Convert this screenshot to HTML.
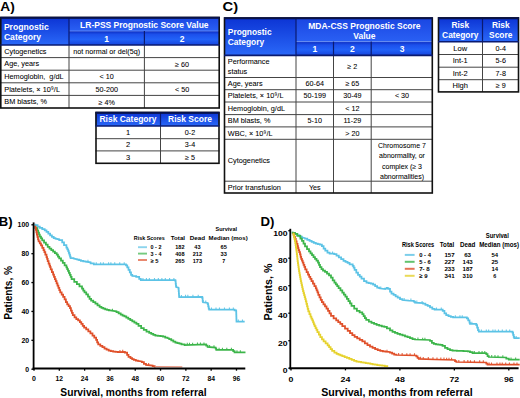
<!DOCTYPE html>
<html><head><meta charset="utf-8"><style>
html,body{margin:0;padding:0;background:#fff;}
body{width:520px;height:398px;overflow:hidden;}
svg{display:block;font-family:"Liberation Sans", sans-serif;}
</style></head><body>
<svg width="520" height="398" viewBox="0 0 520 398">
<defs>
<linearGradient id="gTop" x1="0" y1="0" x2="0" y2="1">
<stop offset="0" stop-color="#1a46e2"/><stop offset="1" stop-color="#2a60f4"/></linearGradient>
<linearGradient id="gSub" x1="0" y1="0" x2="0" y2="1">
<stop offset="0" stop-color="#0c2cc0"/><stop offset="0.25" stop-color="#1c50ec"/><stop offset="0.6" stop-color="#2262f8"/><stop offset="1" stop-color="#1644dc"/></linearGradient>
<linearGradient id="gFull" x1="0" y1="0" x2="0" y2="1">
<stop offset="0" stop-color="#0c34d4"/><stop offset="1" stop-color="#2a68f8"/></linearGradient>
</defs>
<text x="0.3" y="10.8" font-size="13.4" font-weight="bold" fill="#000" textLength="14.50" lengthAdjust="spacingAndGlyphs">A)</text>
<text x="222.6" y="11.1" font-size="13.6" font-weight="bold" fill="#000" textLength="15.60" lengthAdjust="spacingAndGlyphs">C)</text>
<rect x="0.3" y="17.5" width="219.39999999999998" height="13.5" fill="url(#gTop)" />
<rect x="69" y="31" width="150.7" height="14" fill="url(#gSub)" />
<rect x="0.3" y="31" width="68.7" height="14" fill="url(#gSub)" />
<rect x="0.3" y="17.5" width="68.7" height="27.5" fill="url(#gFull)" />
<line x1="69" y1="31" x2="219.7" y2="31" stroke="#6f95f5" stroke-width="0.8"/>
<line x1="69" y1="17.5" x2="69" y2="45" stroke="#0a1a70" stroke-width="1.2"/>
<line x1="144.4" y1="31" x2="144.4" y2="45" stroke="#0a1a70" stroke-width="1.2"/>
<line x1="0.3" y1="57.6" x2="219.7" y2="57.6" stroke="#444" stroke-width="1"/>
<line x1="0.3" y1="70.2" x2="219.7" y2="70.2" stroke="#444" stroke-width="1"/>
<line x1="0.3" y1="82.8" x2="219.7" y2="82.8" stroke="#444" stroke-width="1"/>
<line x1="0.3" y1="95.4" x2="219.7" y2="95.4" stroke="#444" stroke-width="1"/>
<line x1="69" y1="45" x2="69" y2="108" stroke="#444" stroke-width="1"/>
<line x1="144.4" y1="45" x2="144.4" y2="108" stroke="#444" stroke-width="1"/>
<rect x="0.8" y="17.5" width="218.39999999999998" height="90.5" fill="none" stroke="#111" stroke-width="1.6"/>
<line x1="0.3" y1="45" x2="219.7" y2="45" stroke="#0a1a70" stroke-width="1.6"/>
<line x1="0.3" y1="17.8" x2="219.7" y2="17.8" stroke="#08124a" stroke-width="1.9"/>
<text x="3.9" y="29.91" font-size="8.6" font-weight="bold" text-anchor="start" fill="#fff" >Prognostic</text>
<text x="3.9" y="39.91" font-size="8.6" font-weight="bold" text-anchor="start" fill="#fff" >Category</text>
<text x="144.35" y="28.38" font-size="8.5" font-weight="bold" text-anchor="middle" fill="#fff" >LR-PSS Prognostic Score Value</text>
<text x="106.7" y="41.98" font-size="8.5" font-weight="bold" text-anchor="middle" fill="#fff" >1</text>
<text x="182.05" y="41.98" font-size="8.5" font-weight="bold" text-anchor="middle" fill="#fff" >2</text>
<text x="4.3" y="53.85" font-size="7.3" font-weight="normal" text-anchor="start" fill="#000"  stroke="#000" stroke-width="0.06">Cytogenetics</text>
<text x="106.7" y="54.22" font-size="7.2" font-weight="normal" text-anchor="middle" fill="#000"  stroke="#000" stroke-width="0.06">not normal or del(5q)</text>
<text x="4.3" y="66.46" font-size="7.3" font-weight="normal" text-anchor="start" fill="#000"  stroke="#000" stroke-width="0.06">Age, years</text>
<text x="182.05" y="67.02" font-size="7.2" font-weight="normal" text-anchor="middle" fill="#000"  stroke="#000" stroke-width="0.06">≥ 60</text>
<text x="4.3" y="79.06" font-size="7.3" font-weight="normal" text-anchor="start" fill="#000"  stroke="#000" stroke-width="0.06">Hemoglobin,  g/dL</text>
<text x="106.7" y="79.42" font-size="7.2" font-weight="normal" text-anchor="middle" fill="#000"  stroke="#000" stroke-width="0.06">&lt; 10</text>
<text x="4.3" y="91.66" font-size="7.3" font-weight="normal" text-anchor="start" fill="#000"  stroke="#000" stroke-width="0.06">Platelets, × 10⁹/L</text>
<text x="106.7" y="92.02" font-size="7.2" font-weight="normal" text-anchor="middle" fill="#000"  stroke="#000" stroke-width="0.06">50-200</text>
<text x="182.05" y="92.22" font-size="7.2" font-weight="normal" text-anchor="middle" fill="#000"  stroke="#000" stroke-width="0.06">&lt; 50</text>
<text x="4.3" y="104.25" font-size="7.3" font-weight="normal" text-anchor="start" fill="#000"  stroke="#000" stroke-width="0.06">BM blasts, %</text>
<text x="106.7" y="104.62" font-size="7.2" font-weight="normal" text-anchor="middle" fill="#000"  stroke="#000" stroke-width="0.06">≥ 4%</text>
<rect x="95.5" y="112.5" width="124.0" height="13.5" fill="url(#gFull)" />
<line x1="160.5" y1="112.5" x2="160.5" y2="126" stroke="#0a1a70" stroke-width="1.2"/>
<line x1="95.5" y1="138.7" x2="219.5" y2="138.7" stroke="#444" stroke-width="1"/>
<line x1="95.5" y1="150.9" x2="219.5" y2="150.9" stroke="#444" stroke-width="1"/>
<line x1="160.5" y1="126" x2="160.5" y2="163.3" stroke="#444" stroke-width="1"/>
<rect x="96.0" y="112.5" width="123.0" height="50.80000000000001" fill="none" stroke="#111" stroke-width="1.6"/>
<line x1="95.5" y1="126" x2="219.5" y2="126" stroke="#0a1a70" stroke-width="1.6"/>
<line x1="95.5" y1="112.8" x2="219.5" y2="112.8" stroke="#08124a" stroke-width="1.9"/>
<text x="128.0" y="122.27" font-size="8.5" font-weight="bold" text-anchor="middle" fill="#fff" >Risk Category</text>
<text x="190.0" y="122.27" font-size="8.5" font-weight="bold" text-anchor="middle" fill="#fff" >Risk Score</text>
<text x="128.0" y="134.97" font-size="7.5" font-weight="normal" text-anchor="middle" fill="#000"  stroke="#000" stroke-width="0.06">1</text>
<text x="190.0" y="134.87" font-size="7.2" font-weight="normal" text-anchor="middle" fill="#000"  stroke="#000" stroke-width="0.06">0-2</text>
<text x="128.0" y="147.43" font-size="7.5" font-weight="normal" text-anchor="middle" fill="#000"  stroke="#000" stroke-width="0.06">2</text>
<text x="190.0" y="147.32" font-size="7.2" font-weight="normal" text-anchor="middle" fill="#000"  stroke="#000" stroke-width="0.06">3-4</text>
<text x="128.0" y="159.73" font-size="7.5" font-weight="normal" text-anchor="middle" fill="#000"  stroke="#000" stroke-width="0.06">3</text>
<text x="190.0" y="159.62" font-size="7.2" font-weight="normal" text-anchor="middle" fill="#000"  stroke="#000" stroke-width="0.06">≥ 5</text>
<rect x="224" y="18" width="208.8" height="23.6" fill="url(#gTop)" />
<rect x="224" y="41.6" width="208.8" height="13.799999999999997" fill="url(#gSub)" />
<rect x="224" y="18" width="72" height="37.4" fill="url(#gFull)" />
<line x1="296" y1="41.6" x2="432.8" y2="41.6" stroke="#6f95f5" stroke-width="0.8"/>
<line x1="296" y1="18" x2="296" y2="55.4" stroke="#0a1a70" stroke-width="1.2"/>
<line x1="333.5" y1="41.6" x2="333.5" y2="55.4" stroke="#0a1a70" stroke-width="1.2"/>
<line x1="371.2" y1="41.6" x2="371.2" y2="55.4" stroke="#0a1a70" stroke-width="1.2"/>
<line x1="224" y1="77.5" x2="432.8" y2="77.5" stroke="#444" stroke-width="1"/>
<line x1="224" y1="89.7" x2="432.8" y2="89.7" stroke="#444" stroke-width="1"/>
<line x1="224" y1="102" x2="432.8" y2="102" stroke="#444" stroke-width="1"/>
<line x1="224" y1="114.6" x2="432.8" y2="114.6" stroke="#444" stroke-width="1"/>
<line x1="224" y1="126.9" x2="432.8" y2="126.9" stroke="#444" stroke-width="1"/>
<line x1="224" y1="139.3" x2="432.8" y2="139.3" stroke="#444" stroke-width="1"/>
<line x1="224" y1="181.2" x2="432.8" y2="181.2" stroke="#444" stroke-width="1"/>
<line x1="296" y1="55.4" x2="296" y2="193" stroke="#444" stroke-width="1"/>
<line x1="333.5" y1="55.4" x2="333.5" y2="193" stroke="#444" stroke-width="1"/>
<line x1="371.2" y1="55.4" x2="371.2" y2="193" stroke="#444" stroke-width="1"/>
<rect x="224.5" y="18" width="207.8" height="175" fill="none" stroke="#111" stroke-width="1.6"/>
<line x1="224" y1="55.4" x2="432.8" y2="55.4" stroke="#0a1a70" stroke-width="1.6"/>
<line x1="224" y1="18.3" x2="432.8" y2="18.3" stroke="#08124a" stroke-width="1.9"/>
<text x="227.8" y="34.64" font-size="8.4" font-weight="bold" text-anchor="start" fill="#fff" >Prognostic</text>
<text x="227.8" y="44.74" font-size="8.4" font-weight="bold" text-anchor="start" fill="#fff" >Category</text>
<text x="364.4" y="28.67" font-size="8.5" font-weight="bold" text-anchor="middle" fill="#fff" >MDA-CSS Prognostic Score</text>
<text x="364.4" y="38.68" font-size="8.5" font-weight="bold" text-anchor="middle" fill="#fff" >Value</text>
<text x="314.75" y="51.98" font-size="8.5" font-weight="bold" text-anchor="middle" fill="#fff" >1</text>
<text x="352.35" y="51.98" font-size="8.5" font-weight="bold" text-anchor="middle" fill="#fff" >2</text>
<text x="402.0" y="51.98" font-size="8.5" font-weight="bold" text-anchor="middle" fill="#fff" >3</text>
<text x="227.8" y="63.8" font-size="7.3" font-weight="normal" text-anchor="start" fill="#000"  stroke="#000" stroke-width="0.06">Performance</text>
<text x="227.8" y="73.81" font-size="7.3" font-weight="normal" text-anchor="start" fill="#000"  stroke="#000" stroke-width="0.06">status</text>
<text x="352.35" y="68.97" font-size="7.2" font-weight="normal" text-anchor="middle" fill="#000"  stroke="#000" stroke-width="0.06">≥ 2</text>
<text x="227.8" y="86.16" font-size="7.3" font-weight="normal" text-anchor="start" fill="#000"  stroke="#000" stroke-width="0.06">Age, years</text>
<text x="314.75" y="86.12" font-size="7.2" font-weight="normal" text-anchor="middle" fill="#000"  stroke="#000" stroke-width="0.06">60-64</text>
<text x="352.35" y="86.12" font-size="7.2" font-weight="normal" text-anchor="middle" fill="#000"  stroke="#000" stroke-width="0.06">≥ 65</text>
<text x="227.8" y="98.41" font-size="7.3" font-weight="normal" text-anchor="start" fill="#000"  stroke="#000" stroke-width="0.06">Platelets, × 10⁹/L</text>
<text x="314.75" y="98.37" font-size="7.2" font-weight="normal" text-anchor="middle" fill="#000"  stroke="#000" stroke-width="0.06">50-199</text>
<text x="352.35" y="98.37" font-size="7.2" font-weight="normal" text-anchor="middle" fill="#000"  stroke="#000" stroke-width="0.06">30-49</text>
<text x="402.0" y="98.37" font-size="7.2" font-weight="normal" text-anchor="middle" fill="#000"  stroke="#000" stroke-width="0.06">&lt; 30</text>
<text x="227.8" y="110.85" font-size="7.3" font-weight="normal" text-anchor="start" fill="#000"  stroke="#000" stroke-width="0.06">Hemoglobin, g/dL</text>
<text x="352.35" y="110.82" font-size="7.2" font-weight="normal" text-anchor="middle" fill="#000"  stroke="#000" stroke-width="0.06">&lt; 12</text>
<text x="227.8" y="123.31" font-size="7.3" font-weight="normal" text-anchor="start" fill="#000"  stroke="#000" stroke-width="0.06">BM blasts, %</text>
<text x="314.75" y="123.27" font-size="7.2" font-weight="normal" text-anchor="middle" fill="#000"  stroke="#000" stroke-width="0.06">5-10</text>
<text x="352.35" y="123.27" font-size="7.2" font-weight="normal" text-anchor="middle" fill="#000"  stroke="#000" stroke-width="0.06">11-29</text>
<text x="227.8" y="135.66" font-size="7.3" font-weight="normal" text-anchor="start" fill="#000"  stroke="#000" stroke-width="0.06">WBC, × 10⁹/L</text>
<text x="352.35" y="135.62" font-size="7.2" font-weight="normal" text-anchor="middle" fill="#000"  stroke="#000" stroke-width="0.06">&gt; 20</text>
<text x="227.8" y="162.81" font-size="7.3" font-weight="normal" text-anchor="start" fill="#000"  stroke="#000" stroke-width="0.06">Cytogenetics</text>
<text x="227.8" y="189.66" font-size="7.3" font-weight="normal" text-anchor="start" fill="#000"  stroke="#000" stroke-width="0.06">Prior transfusion</text>
<text x="314.75" y="189.62" font-size="7.2" font-weight="normal" text-anchor="middle" fill="#000"  stroke="#000" stroke-width="0.06">Yes</text>
<text x="402.0" y="148.05" font-size="7.0" font-weight="normal" text-anchor="middle" fill="#000"  stroke="#000" stroke-width="0.06">Chromosome 7</text>
<text x="402.0" y="158.4" font-size="7.0" font-weight="normal" text-anchor="middle" fill="#000"  stroke="#000" stroke-width="0.06">abnormality, or</text>
<text x="402.0" y="168.75" font-size="7.0" font-weight="normal" text-anchor="middle" fill="#000"  stroke="#000" stroke-width="0.06">complex (≥ 3</text>
<text x="402.0" y="179.1" font-size="7.0" font-weight="normal" text-anchor="middle" fill="#000"  stroke="#000" stroke-width="0.06">abnormalities)</text>
<rect x="438" y="17.9" width="81" height="23.800000000000004" fill="url(#gFull)" />
<line x1="482.5" y1="17.9" x2="482.5" y2="41.7" stroke="#0a1a70" stroke-width="1.2"/>
<line x1="438" y1="54.5" x2="519" y2="54.5" stroke="#444" stroke-width="1"/>
<line x1="438" y1="67.2" x2="519" y2="67.2" stroke="#444" stroke-width="1"/>
<line x1="438" y1="79.7" x2="519" y2="79.7" stroke="#444" stroke-width="1"/>
<line x1="482.5" y1="41.7" x2="482.5" y2="91.9" stroke="#444" stroke-width="1"/>
<rect x="438.5" y="17.9" width="80" height="74.0" fill="none" stroke="#111" stroke-width="1.6"/>
<line x1="438" y1="41.7" x2="519" y2="41.7" stroke="#0a1a70" stroke-width="1.6"/>
<line x1="438" y1="18.2" x2="519" y2="18.2" stroke="#08124a" stroke-width="1.9"/>
<text x="460.25" y="28.34" font-size="8.4" font-weight="bold" text-anchor="middle" fill="#fff" >Risk</text>
<text x="460.25" y="38.24" font-size="8.4" font-weight="bold" text-anchor="middle" fill="#fff" >Category</text>
<text x="500.75" y="28.34" font-size="8.4" font-weight="bold" text-anchor="middle" fill="#fff" >Risk</text>
<text x="500.75" y="38.24" font-size="8.4" font-weight="bold" text-anchor="middle" fill="#fff" >Score</text>
<text x="460.25" y="50.73" font-size="7.5" font-weight="normal" text-anchor="middle" fill="#000"  stroke="#000" stroke-width="0.06">Low</text>
<text x="500.75" y="50.62" font-size="7.2" font-weight="normal" text-anchor="middle" fill="#000"  stroke="#000" stroke-width="0.06">0-4</text>
<text x="460.25" y="63.48" font-size="7.5" font-weight="normal" text-anchor="middle" fill="#000"  stroke="#000" stroke-width="0.06">Int-1</text>
<text x="500.75" y="63.37" font-size="7.2" font-weight="normal" text-anchor="middle" fill="#000"  stroke="#000" stroke-width="0.06">5-6</text>
<text x="460.25" y="76.08" font-size="7.5" font-weight="normal" text-anchor="middle" fill="#000"  stroke="#000" stroke-width="0.06">Int-2</text>
<text x="500.75" y="75.97" font-size="7.2" font-weight="normal" text-anchor="middle" fill="#000"  stroke="#000" stroke-width="0.06">7-8</text>
<text x="460.25" y="88.43" font-size="7.5" font-weight="normal" text-anchor="middle" fill="#000"  stroke="#000" stroke-width="0.06">High</text>
<text x="500.75" y="88.32" font-size="7.2" font-weight="normal" text-anchor="middle" fill="#000"  stroke="#000" stroke-width="0.06">≥ 9</text>
<text x="-1.2" y="226" font-size="13" font-weight="bold" fill="#000" textLength="13.80" lengthAdjust="spacingAndGlyphs">B)</text>
<path d="M35.40,224.50 V225.18 H37.60 V225.85 V226.52 H39.80 V227.20 V227.82 H42.25 V228.45 V229.07 H44.70 V229.70 V230.45 H46.50 V231.20 V231.95 H48.30 V232.70 V233.60 H50.10 V234.50 V235.40 H51.90 V236.30 V236.90 H53.70 V237.50 V238.10 H55.50 V238.70 L59.20,239.30 V240.20 H62.20 V241.10 V242.35 H64.00 V243.60 V245.10 H66.40 V246.60 V247.50 H67.30 V248.40 V249.30 H68.20 V250.20 V251.10 H68.80 V252.00 V252.90 H69.40 V253.80 V254.70 H70.00 V255.60 V256.50 H70.60 V257.40 V258.00 H73.60 V258.60 L77.30,259.30 V259.60 H79.10 V259.90 V260.20 H80.90 V260.50 V260.80 H83.30 V261.10 V261.40 H85.70 V261.70 L90.60,262.30 V263.30 H93.80 V264.30 L126.00,264.30 V265.35 H127.25 V266.40 V267.45 H128.50 V268.50 V269.75 H129.77 V271.00 V272.25 H131.03 V273.50 V274.75 H132.30 V276.00 L136.20,276.20 V276.95 H139.20 V277.70 V278.85 H140.80 V280.00 L175.40,280.00 V281.17 H175.67 V282.33 V283.50 H175.93 V284.67 V285.83 H176.20 V287.00 L178.50,287.70 V288.86 H178.68 V290.02 V291.19 H178.85 V292.35 V293.51 H179.02 V294.68 V295.84 H179.20 V297.00 L202.30,296.80 V298.18 H202.65 V299.55 V300.93 H203.00 V302.30 L207.70,303.00 V304.12 H208.20 V305.23 V306.35 H208.70 V307.47 V308.58 H209.20 V309.70 L234.60,309.70 V310.25 H236.20 V310.80 V311.87 H236.26 V312.94 V314.01 H236.32 V315.08 V316.15 H236.38 V317.22 V318.29 H236.44 V319.36 V320.43 H236.50 V321.50 L243.80,321.50" fill="none" stroke="#5cc3e6" stroke-width="1.75" stroke-linejoin="miter" stroke-linecap="square"/>
<path d="M87.94,259.87V261.97M96.25,262.20V264.30M100.65,262.20V264.30M103.33,262.20V264.30M108.57,262.20V264.30M110.89,262.20V264.30M114.72,262.20V264.30M119.72,262.20V264.30M124.23,262.20V264.30M142.94,277.90V280.00M146.42,277.90V280.00M149.36,277.90V280.00M154.50,277.90V280.00M158.34,277.90V280.00M161.88,277.90V280.00M165.30,277.90V280.00M169.57,277.90V280.00M173.89,277.90V280.00M181.42,294.88V296.98M185.54,294.85V296.95M187.84,294.83V296.93M192.92,294.78V296.88M198.23,294.74V296.84M205.76,300.61V302.71M211.47,307.60V309.70M216.01,307.60V309.70M219.45,307.60V309.70M224.48,307.60V309.70M229.40,307.60V309.70M233.34,307.60V309.70M238.31,319.40V321.50M242.49,319.40V321.50" fill="none" stroke="#5cc3e6" stroke-width="1.1" opacity="0.9"/>
<path d="M35.40,226.50 V228.10 H37.40 V229.70 V230.70 H38.20 V231.70 V232.70 H39.00 V233.70 V234.70 H39.80 V235.70 V236.60 H41.00 V237.50 V238.40 H42.20 V239.30 V240.38 H44.05 V241.45 V242.53 H45.90 V243.60 V244.65 H47.70 V245.70 V246.75 H49.50 V247.80 V248.55 H51.30 V249.30 V250.05 H53.10 V250.80 V251.55 H54.90 V252.30 V253.05 H56.70 V253.80 V254.70 H57.95 V255.60 V256.50 H59.20 V257.40 V258.47 H61.00 V259.55 V260.62 H62.80 V261.70 V262.90 H64.60 V264.10 V265.30 H66.40 V266.50 V267.35 H67.20 V268.20 V269.05 H68.00 V269.90 V270.90 H68.90 V271.90 V272.90 H69.80 V273.90 V274.90 H70.70 V275.90 V276.90 H71.60 V277.90 V279.20 H74.25 V280.50 V281.80 H76.90 V283.10 V284.20 H79.45 V285.30 V286.40 H82.00 V287.50 V288.50 H83.25 V289.50 V290.50 H84.50 V291.50 V292.48 H86.25 V293.45 V294.42 H88.00 V295.40 V296.55 H89.55 V297.70 V298.85 H91.10 V300.00 V300.70 H93.25 V301.40 V302.10 H95.40 V302.80 V303.68 H97.50 V304.55 V305.43 H99.60 V306.30 V306.78 H101.47 V307.27 V307.75 H103.33 V308.23 V308.72 H105.20 V309.20 V309.43 H107.07 V309.67 V309.90 H108.93 V310.13 V310.37 H110.80 V310.60 L116.50,311.30 V312.00 H118.60 V312.70 V313.40 H120.70 V314.10 V314.57 H122.57 V315.03 V315.50 H124.43 V315.97 V316.43 H126.30 V316.90 V317.55 H128.30 V318.20 V318.85 H130.30 V319.50 V320.15 H132.30 V320.80 V321.43 H134.37 V322.07 V322.70 H136.43 V323.33 V323.97 H138.50 V324.60 V325.75 H141.15 V326.90 V328.05 H143.80 V329.20 V329.98 H146.50 V330.75 V331.52 H149.20 V332.30 V332.82 H151.27 V333.33 V333.85 H153.33 V334.37 V334.88 H155.40 V335.40 V335.53 H157.93 V335.67 V335.80 H160.47 V335.93 V336.07 H163.00 V336.20 V336.65 H165.25 V337.10 V337.55 H167.50 V338.00 L169.20,338.50 V339.13 H171.27 V339.77 V340.40 H173.33 V341.03 V341.67 H175.40 V342.30 V342.55 H177.43 V342.80 V343.05 H179.47 V343.30 V343.55 H181.50 V343.80 V344.40 H184.60 V345.00 L206.20,344.50 V345.70 H207.60 V346.90 L215.70,347.60 V348.70 H216.30 V349.80 L233.20,349.90 V351.10 H234.50 V352.30 L244.60,352.30" fill="none" stroke="#3cb54a" stroke-width="1.75" stroke-linejoin="miter" stroke-linecap="square"/>
<path d="M112.48,308.71V310.81M187.27,342.84V344.94M189.48,342.79V344.89M192.59,342.72V344.82M197.47,342.60V344.70M200.46,342.53V344.63M203.97,342.45V344.55M209.59,344.97V347.07M213.98,345.35V347.45M219.08,347.72V349.82M222.43,347.74V349.84M226.80,347.76V349.86M231.42,347.79V349.89M236.97,350.20V352.30M240.35,350.20V352.30" fill="none" stroke="#3cb54a" stroke-width="1.1" opacity="0.9"/>
<path d="M35.40,226.50 V227.65 H35.90 V228.80 V229.95 H36.40 V231.10 V232.25 H36.90 V233.40 V234.55 H37.40 V235.70 V236.90 H38.00 V238.10 V239.30 H38.60 V240.50 V241.43 H39.80 V242.35 V243.27 H41.00 V244.20 V245.40 H42.25 V246.60 V247.80 H43.50 V249.00 V250.05 H44.40 V251.10 V252.15 H45.30 V253.20 V254.70 H46.50 V256.20 V257.12 H47.10 V258.05 V258.97 H47.70 V259.90 V261.10 H48.60 V262.30 V263.50 H49.50 V264.70 V265.52 H50.10 V266.35 V267.18 H50.70 V268.00 V269.38 H51.90 V270.75 V272.12 H53.10 V273.50 V274.60 H53.98 V275.70 V276.80 H54.85 V277.90 V279.00 H55.73 V280.10 V281.20 H56.60 V282.30 V283.40 H57.50 V284.50 V285.60 H58.40 V286.70 V287.80 H59.30 V288.90 V290.00 H60.20 V291.10 V292.27 H61.67 V293.43 V294.60 H63.13 V295.77 V296.93 H64.60 V298.10 V299.43 H65.90 V300.75 V302.07 H67.20 V303.40 V304.30 H68.60 V305.20 V306.10 H70.00 V307.00 V308.18 H70.93 V309.37 V310.55 H71.87 V311.73 V312.92 H72.80 V314.10 V315.15 H74.55 V316.20 V317.25 H76.30 V318.30 V319.00 H78.10 V319.70 V320.40 H79.90 V321.10 V322.05 H81.30 V323.00 V323.95 H82.70 V324.90 V325.85 H84.10 V326.80 V327.68 H86.20 V328.55 V329.43 H88.30 V330.30 V331.35 H90.40 V332.40 V333.45 H92.50 V334.50 V335.55 H94.30 V336.60 V337.65 H96.10 V338.70 V339.95 H97.15 V341.20 V342.45 H98.20 V343.70 V344.40 H100.30 V345.10 V345.80 H102.40 V346.50 V347.20 H104.50 V347.90 V348.60 H106.60 V349.30 V349.73 H108.70 V350.15 V350.57 H110.80 V351.00 V351.18 H113.17 V351.37 V351.55 H115.53 V351.73 V351.92 H117.90 V352.10 L124.90,351.80 V352.65 H127.10 V353.50 V354.85 H128.50 V356.20 V356.85 H130.50 V357.50 V358.00 H132.15 V358.50 V359.00 H133.80 V359.50 V359.85 H135.85 V360.20 V360.55 H137.90 V360.90 L141.90,361.50 V362.20 H143.90 V362.90 V363.90 H146.00 V364.90 L152.70,365.60 V366.10 H154.70 V366.60" fill="none" stroke="#e0502a" stroke-width="1.75" stroke-linejoin="miter" stroke-linecap="square"/>
<path d="M119.96,349.91V352.01M122.72,349.79V351.89M148.63,363.07V365.17" fill="none" stroke="#e0502a" stroke-width="1.1" opacity="0.9"/>
<line x1="154.7" y1="366.7" x2="182.3" y2="366.9" stroke="#e8907a" stroke-width="1.3"/>
<line x1="33.6" y1="222.4" x2="33.6" y2="369.5" stroke="#000" stroke-width="1.8"/>
<line x1="32.6" y1="368.6" x2="245.3" y2="368.6" stroke="#000" stroke-width="2"/>
<line x1="31.4" y1="369.2" x2="33.6" y2="369.2" stroke="#000" stroke-width="1.3"/>
<text x="25.25" y="371.75" font-size="6.3" font-weight="bold" fill="#000" textLength="3.85" lengthAdjust="spacingAndGlyphs">0</text>
<line x1="31.4" y1="340.32" x2="33.6" y2="340.32" stroke="#000" stroke-width="1.3"/>
<text x="21.400000000000002" y="342.87" font-size="6.3" font-weight="bold" fill="#000" textLength="7.70" lengthAdjust="spacingAndGlyphs">20</text>
<line x1="31.4" y1="311.44" x2="33.6" y2="311.44" stroke="#000" stroke-width="1.3"/>
<text x="21.400000000000002" y="313.99" font-size="6.3" font-weight="bold" fill="#000" textLength="7.70" lengthAdjust="spacingAndGlyphs">40</text>
<line x1="31.4" y1="282.56" x2="33.6" y2="282.56" stroke="#000" stroke-width="1.3"/>
<text x="21.400000000000002" y="285.11" font-size="6.3" font-weight="bold" fill="#000" textLength="7.70" lengthAdjust="spacingAndGlyphs">60</text>
<line x1="31.4" y1="253.68" x2="33.6" y2="253.68" stroke="#000" stroke-width="1.3"/>
<text x="21.400000000000002" y="256.23" font-size="6.3" font-weight="bold" fill="#000" textLength="7.70" lengthAdjust="spacingAndGlyphs">80</text>
<line x1="31.4" y1="224.8" x2="33.6" y2="224.8" stroke="#000" stroke-width="1.3"/>
<text x="17.55" y="227.35000000000002" font-size="6.3" font-weight="bold" fill="#000" textLength="11.55" lengthAdjust="spacingAndGlyphs">100</text>
<line x1="34.0" y1="368.6" x2="34.0" y2="370.7" stroke="#000" stroke-width="1.3"/>
<text x="32.05" y="380.7" font-size="7.8" font-weight="bold" fill="#000" textLength="3.90" lengthAdjust="spacingAndGlyphs">0</text>
<line x1="59.31" y1="368.6" x2="59.31" y2="370.7" stroke="#000" stroke-width="1.3"/>
<text x="55.56" y="380.7" font-size="7.8" font-weight="bold" fill="#000" textLength="7.50" lengthAdjust="spacingAndGlyphs">12</text>
<line x1="84.62" y1="368.6" x2="84.62" y2="370.7" stroke="#000" stroke-width="1.3"/>
<text x="80.87" y="380.7" font-size="7.8" font-weight="bold" fill="#000" textLength="7.50" lengthAdjust="spacingAndGlyphs">24</text>
<line x1="109.92999999999999" y1="368.6" x2="109.92999999999999" y2="370.7" stroke="#000" stroke-width="1.3"/>
<text x="106.17999999999999" y="380.7" font-size="7.8" font-weight="bold" fill="#000" textLength="7.50" lengthAdjust="spacingAndGlyphs">36</text>
<line x1="135.24" y1="368.6" x2="135.24" y2="370.7" stroke="#000" stroke-width="1.3"/>
<text x="131.49" y="380.7" font-size="7.8" font-weight="bold" fill="#000" textLength="7.50" lengthAdjust="spacingAndGlyphs">48</text>
<line x1="160.55" y1="368.6" x2="160.55" y2="370.7" stroke="#000" stroke-width="1.3"/>
<text x="156.8" y="380.7" font-size="7.8" font-weight="bold" fill="#000" textLength="7.50" lengthAdjust="spacingAndGlyphs">60</text>
<line x1="185.85999999999999" y1="368.6" x2="185.85999999999999" y2="370.7" stroke="#000" stroke-width="1.3"/>
<text x="182.10999999999999" y="380.7" font-size="7.8" font-weight="bold" fill="#000" textLength="7.50" lengthAdjust="spacingAndGlyphs">72</text>
<line x1="211.17" y1="368.6" x2="211.17" y2="370.7" stroke="#000" stroke-width="1.3"/>
<text x="207.42" y="380.7" font-size="7.8" font-weight="bold" fill="#000" textLength="7.50" lengthAdjust="spacingAndGlyphs">84</text>
<line x1="236.48" y1="368.6" x2="236.48" y2="370.7" stroke="#000" stroke-width="1.3"/>
<text x="232.73" y="380.7" font-size="7.8" font-weight="bold" fill="#000" textLength="7.50" lengthAdjust="spacingAndGlyphs">96</text>
<text x="60.3" y="396.2" font-size="10.2" font-weight="bold" fill="#000" textLength="146.30" lengthAdjust="spacingAndGlyphs">Survival, months from referral</text>
<text transform="translate(12.3,292.9) rotate(-90)" font-size="10.2" font-weight="bold" text-anchor="middle" textLength="53.9" lengthAdjust="spacingAndGlyphs">Patients, %</text>
<text x="215.6" y="231.4" font-size="6.0" font-weight="bold" fill="#000" textLength="21.40" lengthAdjust="spacingAndGlyphs">Survival</text>
<text x="133.8" y="239.9" font-size="6.0" font-weight="bold" fill="#000" textLength="31.00" lengthAdjust="spacingAndGlyphs">Risk Scores</text>
<text x="170.8" y="239.9" font-size="6.0" font-weight="bold" fill="#000" textLength="14.20" lengthAdjust="spacingAndGlyphs">Total</text>
<text x="189.8" y="240.0" font-size="6.0" font-weight="bold" fill="#000" textLength="15.40" lengthAdjust="spacingAndGlyphs">Dead</text>
<text x="208.6" y="240.0" font-size="6.0" font-weight="bold" fill="#000" textLength="39.10" lengthAdjust="spacingAndGlyphs">Median (mos)</text>
<line x1="138" y1="247.2" x2="147" y2="247.2" stroke="#5cc3e6" stroke-width="1.9" opacity="0.7"/>
<text x="150.6" y="249.1" font-size="5.8" font-weight="bold" fill="#000" textLength="10.80" lengthAdjust="spacingAndGlyphs">0 - 2</text>
<text x="175.2" y="249.1" font-size="5.8" font-weight="bold" fill="#000" textLength="9.30" lengthAdjust="spacingAndGlyphs">182</text>
<text x="194.3" y="249.1" font-size="5.8" font-weight="bold" fill="#000" textLength="6.20" lengthAdjust="spacingAndGlyphs">43</text>
<text x="220.54999999999998" y="249.1" font-size="5.8" font-weight="bold" fill="#000" textLength="6.30" lengthAdjust="spacingAndGlyphs">65</text>
<line x1="138" y1="253.6" x2="147" y2="253.6" stroke="#3cb54a" stroke-width="1.9" opacity="0.7"/>
<text x="150.6" y="256.3" font-size="5.8" font-weight="bold" fill="#000" textLength="10.80" lengthAdjust="spacingAndGlyphs">3 - 4</text>
<text x="175.2" y="256.3" font-size="5.8" font-weight="bold" fill="#000" textLength="9.30" lengthAdjust="spacingAndGlyphs">408</text>
<text x="192.75" y="256.3" font-size="5.8" font-weight="bold" fill="#000" textLength="9.30" lengthAdjust="spacingAndGlyphs">212</text>
<text x="220.54999999999998" y="256.3" font-size="5.8" font-weight="bold" fill="#000" textLength="6.30" lengthAdjust="spacingAndGlyphs">33</text>
<line x1="138" y1="260" x2="147" y2="260" stroke="#e0502a" stroke-width="1.9" opacity="0.7"/>
<text x="150.6" y="262.8" font-size="5.8" font-weight="bold" fill="#000" textLength="8.00" lengthAdjust="spacingAndGlyphs">≥ 5</text>
<text x="175.2" y="262.8" font-size="5.8" font-weight="bold" fill="#000" textLength="9.30" lengthAdjust="spacingAndGlyphs">265</text>
<text x="192.75" y="262.8" font-size="5.8" font-weight="bold" fill="#000" textLength="9.30" lengthAdjust="spacingAndGlyphs">173</text>
<text x="222.2" y="262.8" font-size="5.8" font-weight="bold" fill="#000" textLength="3.00" lengthAdjust="spacingAndGlyphs">7</text>
<text x="260.4" y="225.5" font-size="13" font-weight="bold" fill="#000" textLength="13.90" lengthAdjust="spacingAndGlyphs">D)</text>
<path d="M292.70,232.50 V232.95 H295.00 V233.40 V233.85 H297.30 V234.30 V235.08 H299.60 V235.85 V236.62 H301.90 V237.40 L305.00,238.20 V238.72 H307.30 V239.25 V239.78 H309.60 V240.30 V240.80 H311.67 V241.30 V241.80 H313.73 V242.30 V242.80 H315.80 V243.30 V243.58 H317.83 V243.87 V244.15 H319.87 V244.43 V244.72 H321.90 V245.00 V246.18 H323.60 V247.35 V248.52 H325.30 V249.70 V250.65 H327.45 V251.60 V252.55 H329.60 V253.50 L334.20,253.50 V254.20 H336.50 V254.90 V255.60 H338.80 V256.30 V257.27 H341.15 V258.25 V259.23 H343.50 V260.20 V260.75 H345.53 V261.30 V261.85 H347.57 V262.40 V262.95 H349.60 V263.50 V264.25 H352.70 V265.00 V265.88 H353.65 V266.75 V267.62 H354.60 V268.50 V269.88 H356.30 V271.25 V272.62 H358.00 V274.00 V274.88 H359.75 V275.75 V276.62 H361.50 V277.50 V278.70 H364.00 V279.90 V281.10 H366.50 V282.30 V282.55 H368.70 V282.80 V283.05 H370.90 V283.30 V283.55 H373.10 V283.80 V284.55 H375.13 V285.30 V286.05 H377.17 V286.80 V287.55 H379.20 V288.30 L385.00,289.00 V288.62 H386.75 V288.25 V287.88 H388.50 V287.50 V288.88 H390.00 V290.25 V291.62 H391.50 V293.00 V293.65 H393.57 V294.30 V294.95 H395.63 V295.60 V296.25 H397.70 V296.90 V297.67 H400.00 V298.45 V299.23 H402.30 V300.00 L409.00,300.60 L413.80,300.80 V301.70 H415.00 V302.60 L423.10,303.10 V303.67 H425.40 V304.23 V304.80 H427.70 V305.37 V305.93 H430.00 V306.50 V307.25 H432.30 V308.00 V308.75 H434.60 V309.50 L442.70,309.50 V310.77 H444.45 V312.05 V313.33 H446.20 V314.60 V315.07 H448.50 V315.53 V316.00 H450.80 V316.47 V316.93 H453.10 V317.40 L466.90,317.40 V318.42 H468.20 V319.45 V320.48 H469.50 V321.50 V322.65 H470.00 V323.80 L476.30,323.80 V325.08 H477.13 V326.37 V327.65 H477.97 V328.93 V330.22 H478.80 V331.50 L512.50,331.50 V332.58 H513.10 V333.67 V334.75 H513.70 V335.83 V336.92 H514.30 V338.00 L518.80,338.00" fill="none" stroke="#5cc3e6" stroke-width="1.75" stroke-linejoin="miter" stroke-linecap="square"/>
<path d="M332.53,251.40V253.50M380.73,286.38V288.48M404.13,298.06V300.16M410.90,298.58V300.68M416.82,300.61V302.71M422.09,300.94V303.04M436.48,307.40V309.50M441.29,307.40V309.50M455.34,315.30V317.40M459.93,315.30V317.40M462.26,315.30V317.40M471.85,321.70V323.80M481.36,329.40V331.50M486.34,329.40V331.50M488.64,329.40V331.50M492.89,329.40V331.50M495.16,329.40V331.50M498.49,329.40V331.50M502.31,329.40V331.50M506.29,329.40V331.50M509.70,329.40V331.50M516.20,335.90V338.00" fill="none" stroke="#5cc3e6" stroke-width="1.1" opacity="0.9"/>
<path d="M292.70,232.50 V232.95 H295.00 V233.40 V233.85 H297.30 V234.30 V235.85 H300.40 V237.40 V238.55 H301.95 V239.70 V240.85 H303.50 V242.00 V243.60 H305.00 V245.20 V246.47 H307.00 V247.75 V249.03 H309.00 V250.30 V251.30 H310.50 V252.30 V253.30 H312.00 V254.30 V255.23 H313.50 V256.15 V257.07 H315.00 V258.00 V258.88 H316.50 V259.75 V260.62 H318.00 V261.50 V262.62 H319.00 V263.75 V264.88 H320.00 V266.00 V267.00 H321.50 V268.00 V269.00 H323.00 V270.00 V270.65 H325.00 V271.30 V271.95 H327.00 V272.60 V273.53 H329.00 V274.45 V275.38 H331.00 V276.30 V277.68 H332.70 V279.05 V280.43 H334.40 V281.80 V282.65 H335.80 V283.50 V284.35 H337.20 V285.20 V286.10 H338.60 V287.00 V288.12 H340.45 V289.25 V290.38 H342.30 V291.50 V292.53 H343.83 V293.57 V294.60 H345.37 V295.63 V296.67 H346.90 V297.70 V298.85 H348.43 V300.00 V301.15 H349.97 V302.30 V303.45 H351.50 V304.60 V305.95 H354.20 V307.30 V308.65 H356.90 V310.00 V310.77 H359.60 V311.55 V312.33 H362.30 V313.10 V314.12 H363.60 V315.13 V316.15 H364.90 V317.17 V318.18 H366.20 V319.20 V319.98 H368.85 V320.75 V321.52 H371.50 V322.30 V322.82 H374.07 V323.33 V323.85 H376.63 V324.37 V324.88 H379.20 V325.40 V325.70 H381.77 V326.00 V326.30 H384.33 V326.60 V326.90 H386.90 V327.20 V328.35 H390.00 V329.50 V330.25 H392.50 V331.00 V331.75 H395.00 V332.50 V332.92 H397.50 V333.33 V333.75 H400.00 V334.17 V334.58 H402.50 V335.00 V335.42 H405.00 V335.83 V336.25 H407.50 V336.67 V337.08 H410.00 V337.50 V338.00 H412.50 V338.50 V339.00 H415.00 V339.50 L430.00,340.00 V340.95 H431.90 V341.90 V342.85 H433.80 V343.80 V343.95 H435.98 V344.10 V344.25 H438.15 V344.40 V344.55 H440.32 V344.70 V344.85 H442.50 V345.00 V345.95 H445.00 V346.90 V347.85 H447.50 V348.80 V349.23 H450.00 V349.65 V350.07 H452.50 V350.50 V350.55 H454.69 V350.60 V350.65 H456.88 V350.70 V350.75 H459.06 V350.80 V350.85 H461.25 V350.90 V350.95 H463.44 V351.00 V351.05 H465.62 V351.10 V351.15 H467.81 V351.20 V351.25 H470.00 V351.30 V352.15 H472.50 V353.00 L486.30,353.00 V354.00 H487.55 V355.00 V356.00 H488.80 V357.00 L506.30,357.50 V358.50 H508.80 V359.50 L518.80,359.50" fill="none" stroke="#3cb54a" stroke-width="1.75" stroke-linejoin="miter" stroke-linecap="square"/>
<path d="M417.93,337.50V339.60M422.66,337.66V339.76M424.91,337.73V339.83M474.33,350.90V353.00M479.00,350.90V353.00M482.08,350.90V353.00M484.77,350.90V353.00M491.69,354.98V357.08M494.97,355.08V357.18M498.00,355.16V357.26M502.82,355.30V357.40M511.04,357.40V359.50M515.63,357.40V359.50" fill="none" stroke="#3cb54a" stroke-width="1.1" opacity="0.9"/>
<path d="M293.50,233.50 V234.58 H294.27 V235.67 V236.75 H295.03 V237.83 V238.92 H295.80 V240.00 V241.25 H296.65 V242.50 V243.75 H297.50 V245.00 V246.00 H298.00 V247.00 V248.00 H298.50 V249.00 V250.00 H299.25 V251.00 V252.00 H300.00 V253.00 V254.25 H300.60 V255.50 V256.75 H301.20 V258.00 V258.88 H301.95 V259.75 V260.62 H302.70 V261.50 V262.58 H303.53 V263.67 V264.75 H304.37 V265.83 V266.92 H305.20 V268.00 V269.38 H306.60 V270.75 V272.12 H308.00 V273.50 V274.58 H309.17 V275.67 V276.75 H310.33 V277.83 V278.92 H311.50 V280.00 V281.22 H312.93 V282.43 V283.65 H314.37 V284.87 V286.08 H315.80 V287.30 V288.33 H316.63 V289.37 V290.40 H317.47 V291.43 V292.47 H318.30 V293.50 V294.78 H319.50 V296.07 V297.35 H320.70 V298.63 V299.92 H321.90 V301.20 V302.22 H323.43 V303.23 V304.25 H324.97 V305.27 V306.28 H326.50 V307.30 V308.50 H328.00 V309.70 V310.90 H329.50 V312.10 V313.30 H331.00 V314.50 V315.75 H333.60 V317.00 V318.25 H336.20 V319.50 V320.38 H338.23 V321.27 V322.15 H340.27 V323.03 V323.92 H342.30 V324.80 V326.05 H345.00 V327.30 V328.55 H347.70 V329.80 V330.87 H350.00 V331.93 V333.00 H352.30 V334.07 V335.13 H354.60 V336.20 V336.92 H357.17 V337.63 V338.35 H359.73 V339.07 V339.78 H362.30 V340.50 V341.42 H364.87 V342.33 V343.25 H367.43 V344.17 V345.08 H370.00 V346.00 V346.63 H372.57 V347.27 V347.90 H375.13 V348.53 V349.17 H377.70 V349.80 V350.12 H380.27 V350.43 V350.75 H382.83 V351.07 V351.38 H385.40 V351.70 L390.00,352.00 V352.50 H392.10 V353.00 V353.50 H394.20 V354.00 V354.50 H396.30 V355.00 L416.30,355.50 V356.32 H417.55 V357.15 V357.98 H418.80 V358.80 L435.00,359.50 L455.00,360.00 V361.00 H456.30 V362.00 L486.30,362.50 V363.50 H487.50 V364.50 L518.80,364.50" fill="none" stroke="#e0502a" stroke-width="1.75" stroke-linejoin="miter" stroke-linecap="square"/>
<path d="M386.99,349.70V351.80M398.62,352.96V355.06M402.15,353.05V355.15M406.81,353.16V355.26M410.09,353.24V355.34M414.50,353.36V355.46M420.59,356.78V358.88M423.24,356.89V358.99M428.30,357.11V359.21M432.96,357.31V359.41M436.99,357.45V359.55M440.84,357.55V359.65M443.98,357.62V359.72M446.64,357.69V359.79M449.00,357.75V359.85M451.57,357.81V359.91M458.81,359.94V362.04M464.10,360.03V362.13M467.82,360.09V362.19M470.48,360.14V362.24M474.45,360.20V362.30M479.67,360.29V362.39M483.32,360.35V362.45M489.15,362.40V364.50M491.50,362.40V364.50M496.97,362.40V364.50M499.93,362.40V364.50M502.26,362.40V364.50M505.70,362.40V364.50M509.40,362.40V364.50M513.94,362.40V364.50M516.97,362.40V364.50" fill="none" stroke="#e0502a" stroke-width="1.1" opacity="0.9"/>
<path d="M293.50,233.50 V234.56 H293.95 V235.62 V236.69 H294.40 V237.75 V238.81 H294.85 V239.88 V240.94 H295.30 V242.00 V243.08 H295.60 V244.16 V245.24 H295.90 V246.32 V247.40 H296.20 V248.48 V249.56 H296.50 V250.64 V251.72 H296.80 V252.80 V254.00 H297.07 V255.20 V256.40 H297.33 V257.60 V258.80 H297.60 V260.00 V261.00 H297.88 V262.00 V263.00 H298.16 V264.00 V265.00 H298.44 V266.00 V267.00 H298.72 V268.00 V269.00 H299.00 V270.00 V271.00 H299.36 V272.00 V273.00 H299.72 V274.00 V275.00 H300.08 V276.00 V277.00 H300.44 V278.00 V279.00 H300.80 V280.00 V281.02 H301.24 V282.04 V283.06 H301.68 V284.08 V285.10 H302.12 V286.12 V287.14 H302.56 V288.16 V289.18 H303.00 V290.20 V291.20 H303.56 V292.20 V293.20 H304.12 V294.20 V295.20 H304.68 V296.20 V297.20 H305.24 V298.20 V299.20 H305.80 V300.20 V301.43 H306.43 V302.65 V303.88 H307.05 V305.10 V306.32 H307.68 V307.55 V308.77 H308.30 V310.00 V311.38 H309.40 V312.75 V314.12 H310.50 V315.50 V316.50 H311.40 V317.50 V318.50 H312.30 V319.50 V320.45 H313.07 V321.40 V322.35 H313.83 V323.30 V324.25 H314.60 V325.20 V326.13 H315.53 V327.07 V328.00 H316.47 V328.93 V329.87 H317.40 V330.80 V332.07 H318.85 V333.35 V334.62 H320.30 V335.90 V337.02 H321.95 V338.15 V339.27 H323.60 V340.40 V341.40 H325.60 V342.40 V343.40 H327.60 V344.40 V345.33 H329.10 V346.27 V347.20 H330.60 V348.13 V349.07 H332.10 V350.00 V350.85 H334.35 V351.70 V352.55 H336.60 V353.40 V353.78 H338.50 V354.17 V354.55 H340.40 V354.93 V355.32 H342.30 V355.70 V356.15 H344.60 V356.60 V357.05 H346.90 V357.50 V357.98 H349.30 V358.45 V358.93 H351.70 V359.40 V359.88 H354.10 V360.35 V360.82 H356.50 V361.30 V361.50 H358.80 V361.70 V361.90 H361.10 V362.10 V362.30 H363.40 V362.50 V362.70 H365.70 V362.90 V363.10 H368.00 V363.30 V363.49 H370.32 V363.68 V363.87 H372.64 V364.06 V364.25 H374.96 V364.44 V364.63 H377.28 V364.82 V365.01 H379.60 V365.20 V365.37 H382.17 V365.53 V365.70 H384.73 V365.87 V366.03 H387.30 V366.20" fill="none" stroke="#e6d22e" stroke-width="1.75" stroke-linejoin="miter" stroke-linecap="square"/>
<line x1="290.3" y1="228.8" x2="290.3" y2="369.3" stroke="#000" stroke-width="1.8"/>
<line x1="289.4" y1="368.2" x2="518.6" y2="368.2" stroke="#000" stroke-width="2"/>
<line x1="288.3" y1="368.2" x2="290.3" y2="368.2" stroke="#000" stroke-width="1.3"/>
<text x="282.8" y="373.2" font-size="7.8" font-weight="bold" fill="#000" textLength="4.80" lengthAdjust="spacingAndGlyphs">0</text>
<line x1="288.3" y1="340.7" x2="290.3" y2="340.7" stroke="#000" stroke-width="1.3"/>
<text x="278.0" y="345.7" font-size="7.8" font-weight="bold" fill="#000" textLength="9.60" lengthAdjust="spacingAndGlyphs">20</text>
<line x1="288.3" y1="313.2" x2="290.3" y2="313.2" stroke="#000" stroke-width="1.3"/>
<text x="278.0" y="318.2" font-size="7.8" font-weight="bold" fill="#000" textLength="9.60" lengthAdjust="spacingAndGlyphs">40</text>
<line x1="288.3" y1="285.7" x2="290.3" y2="285.7" stroke="#000" stroke-width="1.3"/>
<text x="278.0" y="290.7" font-size="7.8" font-weight="bold" fill="#000" textLength="9.60" lengthAdjust="spacingAndGlyphs">60</text>
<line x1="288.3" y1="258.2" x2="290.3" y2="258.2" stroke="#000" stroke-width="1.3"/>
<text x="278.0" y="263.2" font-size="7.8" font-weight="bold" fill="#000" textLength="9.60" lengthAdjust="spacingAndGlyphs">80</text>
<line x1="288.3" y1="230.7" x2="290.3" y2="230.7" stroke="#000" stroke-width="1.3"/>
<text x="273.20000000000005" y="235.7" font-size="7.8" font-weight="bold" fill="#000" textLength="14.40" lengthAdjust="spacingAndGlyphs">100</text>
<line x1="291.0" y1="368.2" x2="291.0" y2="370.4" stroke="#000" stroke-width="1.3"/>
<text x="288.55" y="382.1" font-size="8.1" font-weight="bold" fill="#000" textLength="4.90" lengthAdjust="spacingAndGlyphs">0</text>
<line x1="345.45" y1="368.2" x2="345.45" y2="370.4" stroke="#000" stroke-width="1.3"/>
<text x="340.55" y="382.1" font-size="8.1" font-weight="bold" fill="#000" textLength="9.80" lengthAdjust="spacingAndGlyphs">24</text>
<line x1="399.90000000000003" y1="368.2" x2="399.90000000000003" y2="370.4" stroke="#000" stroke-width="1.3"/>
<text x="395.00000000000006" y="382.1" font-size="8.1" font-weight="bold" fill="#000" textLength="9.80" lengthAdjust="spacingAndGlyphs">48</text>
<line x1="454.35" y1="368.2" x2="454.35" y2="370.4" stroke="#000" stroke-width="1.3"/>
<text x="449.45000000000005" y="382.1" font-size="8.1" font-weight="bold" fill="#000" textLength="9.80" lengthAdjust="spacingAndGlyphs">72</text>
<line x1="508.80000000000007" y1="368.2" x2="508.80000000000007" y2="370.4" stroke="#000" stroke-width="1.3"/>
<text x="503.9000000000001" y="382.1" font-size="8.1" font-weight="bold" fill="#000" textLength="9.80" lengthAdjust="spacingAndGlyphs">96</text>
<text x="321.2" y="396.3" font-size="10.5" font-weight="bold" fill="#000" textLength="151.40" lengthAdjust="spacingAndGlyphs">Survival, months from referral</text>
<text transform="translate(271.7,292.1) rotate(-90)" font-size="10.7" font-weight="bold" text-anchor="middle" textLength="57" lengthAdjust="spacingAndGlyphs">Patients, %</text>
<text x="485.8" y="238.2" font-size="6.6" font-weight="bold" fill="#000" textLength="23.00" lengthAdjust="spacingAndGlyphs">Survival</text>
<text x="401.9" y="247.4" font-size="6.6" font-weight="bold" fill="#000" textLength="32.30" lengthAdjust="spacingAndGlyphs">Risk Scores</text>
<text x="439.8" y="247.4" font-size="6.6" font-weight="bold" fill="#000" textLength="14.30" lengthAdjust="spacingAndGlyphs">Total</text>
<text x="460.0" y="247.4" font-size="6.6" font-weight="bold" fill="#000" textLength="15.30" lengthAdjust="spacingAndGlyphs">Dead</text>
<text x="479.2" y="247.4" font-size="6.6" font-weight="bold" fill="#000" textLength="39.80" lengthAdjust="spacingAndGlyphs">Median (mos)</text>
<line x1="404.8" y1="254.9" x2="414.6" y2="254.9" stroke="#5cc3e6" stroke-width="2" opacity="0.8"/>
<text x="419.2" y="256.8" font-size="6.2" font-weight="bold" fill="#000" textLength="11.80" lengthAdjust="spacingAndGlyphs">0 - 4</text>
<text x="444.40000000000003" y="256.8" font-size="6.2" font-weight="bold" fill="#000" textLength="10.20" lengthAdjust="spacingAndGlyphs">157</text>
<text x="464.20000000000005" y="256.8" font-size="6.2" font-weight="bold" fill="#000" textLength="6.80" lengthAdjust="spacingAndGlyphs">63</text>
<text x="491.5" y="256.8" font-size="6.2" font-weight="bold" fill="#000" textLength="6.60" lengthAdjust="spacingAndGlyphs">54</text>
<line x1="404.8" y1="261.8" x2="414.6" y2="261.8" stroke="#3cb54a" stroke-width="2" opacity="0.8"/>
<text x="419.2" y="263.7" font-size="6.2" font-weight="bold" fill="#000" textLength="11.50" lengthAdjust="spacingAndGlyphs">5 - 6</text>
<text x="444.40000000000003" y="263.7" font-size="6.2" font-weight="bold" fill="#000" textLength="10.20" lengthAdjust="spacingAndGlyphs">227</text>
<text x="462.5" y="263.7" font-size="6.2" font-weight="bold" fill="#000" textLength="10.20" lengthAdjust="spacingAndGlyphs">143</text>
<text x="491.5" y="263.7" font-size="6.2" font-weight="bold" fill="#000" textLength="6.60" lengthAdjust="spacingAndGlyphs">25</text>
<line x1="404.8" y1="268.8" x2="414.6" y2="268.8" stroke="#e0502a" stroke-width="2" opacity="0.8"/>
<text x="419.2" y="270.7" font-size="6.2" font-weight="bold" fill="#000" textLength="10.60" lengthAdjust="spacingAndGlyphs">7- 8</text>
<text x="444.40000000000003" y="270.7" font-size="6.2" font-weight="bold" fill="#000" textLength="10.20" lengthAdjust="spacingAndGlyphs">233</text>
<text x="462.5" y="270.7" font-size="6.2" font-weight="bold" fill="#000" textLength="10.20" lengthAdjust="spacingAndGlyphs">187</text>
<text x="491.5" y="270.7" font-size="6.2" font-weight="bold" fill="#000" textLength="6.60" lengthAdjust="spacingAndGlyphs">14</text>
<line x1="404.8" y1="275.8" x2="414.6" y2="275.8" stroke="#e6d22e" stroke-width="2" opacity="0.8"/>
<text x="419.2" y="277.7" font-size="6.2" font-weight="bold" fill="#000" textLength="8.30" lengthAdjust="spacingAndGlyphs">≥ 9</text>
<text x="444.40000000000003" y="277.7" font-size="6.2" font-weight="bold" fill="#000" textLength="10.20" lengthAdjust="spacingAndGlyphs">341</text>
<text x="462.5" y="277.7" font-size="6.2" font-weight="bold" fill="#000" textLength="10.20" lengthAdjust="spacingAndGlyphs">310</text>
<text x="493.3" y="277.7" font-size="6.2" font-weight="bold" fill="#000" textLength="3.00" lengthAdjust="spacingAndGlyphs">6</text>
</svg>
</body></html>
